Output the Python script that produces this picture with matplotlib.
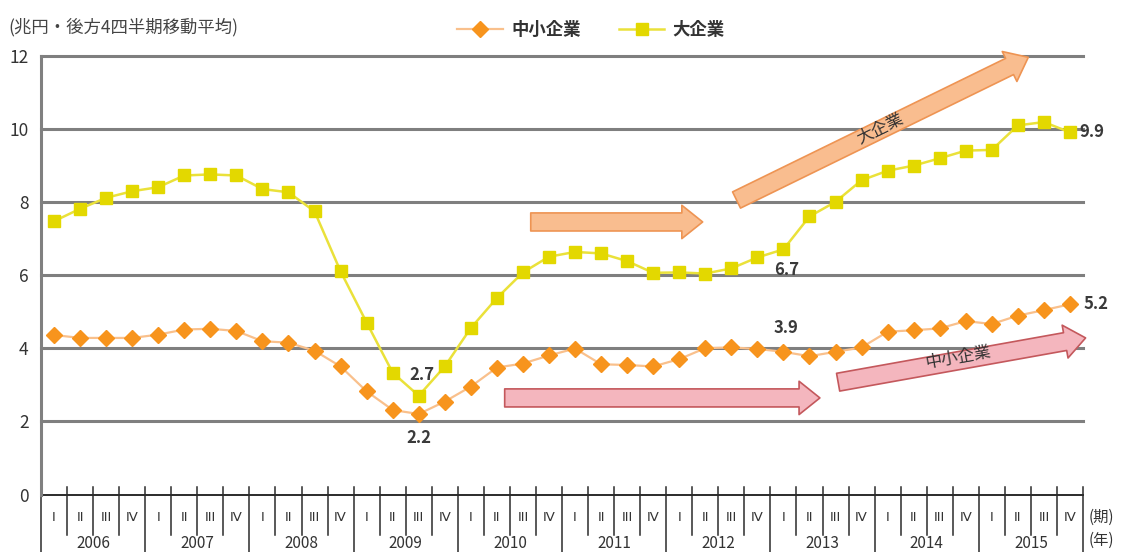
import matplotlib
matplotlib.use("Agg")
import matplotlib.pyplot as plt
from matplotlib.patches import FancyArrowPatch, ArrowStyle
import numpy as np

plt.rcParams['font.family'] = ['Noto Sans CJK JP', 'DejaVu Sans']

# ---- data ----
years = ['2006', '2007', '2008', '2009', '2010', '2011', '2012', '2013', '2014', '2015']
quarters = ['I', 'II', 'III', 'IV']

sme = [4.36, 4.28, 4.28, 4.28,
       4.37, 4.51, 4.53, 4.47,
       4.19, 4.15, 3.93, 3.50,
       2.82, 2.31, 2.2, 2.54,
       2.95, 3.47, 3.58, 3.80,
       3.99, 3.56, 3.54, 3.50,
       3.70, 4.00, 4.02, 3.98,
       3.9, 3.78, 3.90, 4.02,
       4.45, 4.49, 4.54, 4.74,
       4.66, 4.89, 5.04, 5.2]

large = [7.47, 7.81, 8.11, 8.29,
         8.40, 8.72, 8.75, 8.72,
         8.35, 8.26, 7.74, 6.10,
         4.70, 3.33, 2.7, 3.50,
         4.55, 5.37, 6.07, 6.50,
         6.63, 6.59, 6.38, 6.06,
         6.07, 6.04, 6.18, 6.48,
         6.7, 7.60, 8.00, 8.59,
         8.85, 8.99, 9.19, 9.40,
         9.42, 10.09, 10.18, 9.9]

sme_name = '中小企業'
large_name = '大企業'
y_title = '(兆円・後方4四半期移動平均)'
y_ticks = [0, 2, 4, 6, 8, 10, 12]

# labelled points: (index, offset in points, alignment)
sme_labels = [(14, (0, -17), 'center'), (28, (2, 17), 'center'), (39, (10, 0), 'left')]
large_labels = [(14, (2, 15), 'center'), (28, (2, -15), 'center'), (39, (7, 0), 'left')]

# ---- figure ----
fig = plt.figure(figsize=(11.24, 5.52), dpi=100)
ax = fig.add_axes([41 / 1124, 1 - 494.5 / 552, 1042 / 1124, 439 / 552])

n = len(sme)
x = np.arange(n)

ax.set_xlim(-0.5, n - 0.5)
ax.set_ylim(0, 12)

# horizontal gridlines
for v in y_ticks[1:]:
    ax.axhline(v, color='#7f7f7f', lw=2.2, zorder=1, clip_on=False)
ax.axhline(0, color='#2b2b2b', lw=1.4, zorder=2, clip_on=False)

for s in ['top', 'right', 'bottom']:
    ax.spines[s].set_visible(False)
ax.spines['left'].set_color('#808080')
ax.spines['left'].set_linewidth(2.2)

ax.set_yticks(y_ticks)
ax.set_yticklabels([str(v) for v in y_ticks], fontsize=12.5, color='#333333')
ax.tick_params(axis='y', length=0, pad=9)
ax.set_xticks([])

# series
l1, = ax.plot(x, sme, color='#F9C08C', lw=1.6, marker='D', markersize=8,
              markerfacecolor='#F7941D', markeredgecolor='#F7941D', zorder=5,
              label=sme_name)
l2, = ax.plot(x, large, color='#EAE13A', lw=1.8, marker='s', markersize=8.5,
              markerfacecolor='#E3D800', markeredgecolor='#E3D800', zorder=5,
              label=large_name)

# value labels
for i, off, ha in sme_labels:
    ax.annotate(f'{sme[i]:.1f}', (x[i], sme[i]), xytext=off, textcoords='offset points',
                ha=ha, va='center', fontsize=12, fontweight='bold', color='#3a3a3a', zorder=6)
for i, off, ha in large_labels:
    ax.annotate(f'{large[i]:.1f}', (x[i], large[i]), xytext=off, textcoords='offset points',
                ha=ha, va='center', fontsize=12, fontweight='bold', color='#3a3a3a', zorder=6)

# trend arrows
def trend_arrow(p0, p1, face, edge):
    style = ArrowStyle.Simple(head_length=15, head_width=24, tail_width=13)
    a = FancyArrowPatch(p0, p1, arrowstyle=style, mutation_scale=1,
                        facecolor=face, edgecolor=edge, lw=1.2,
                        shrinkA=0, shrinkB=0, zorder=4, clip_on=False)
    ax.add_patch(a)

peach, peach_edge = '#F9BD8F', '#EE9453'
pink, pink_edge = '#F4B6BE', '#C4585C'
trend_arrow((18.3, 7.45), (24.9, 7.45), peach, peach_edge)
trend_arrow((26.2, 8.05), (37.4, 11.95), peach, peach_edge)
trend_arrow((17.3, 2.64), (29.4, 2.64), pink, pink_edge)
trend_arrow((30.1, 3.07), (39.6, 4.28), pink, pink_edge)

ax.text(31.7, 10.0, large_name, rotation=26, ha='center', va='center',
        fontsize=12, color='#333333', zorder=6, rotation_mode='anchor')
ax.text(34.7, 3.73, sme_name, rotation=10, ha='center', va='center',
        fontsize=12, color='#333333', zorder=6, rotation_mode='anchor')

# category axis: quarter and year separators with labels
trans = ax.get_xaxis_transform()
fig_bottom = -(552 - 494.5) / 439
for k in range(n + 1):
    xb = k - 0.5
    if k % 4 == 0:
        ax.plot([xb, xb], [0.016, fig_bottom - 0.01], transform=trans, color='#2b2b2b',
                lw=1.1, clip_on=False)
    else:
        ax.plot([xb, xb], [0.016, -0.092], transform=trans, color='#2b2b2b',
                lw=1.1, clip_on=False)
for k in range(n):
    ax.text(k, -0.052, quarters[k % 4], transform=trans, ha='center', va='center',
            fontsize=9.5, color='#333333', family=['DejaVu Sans'])
for j, yr in enumerate(years):
    ax.text(j * 4 + 1.5, -0.111, yr, transform=trans, ha='center', va='center',
            fontsize=11, color='#333333')

ax.text(1.005, -0.052, '(期)', transform=ax.transAxes, ha='left', va='center',
        fontsize=11, color='#333333')
ax.text(1.005, -0.104, '(年)', transform=ax.transAxes, ha='left', va='center',
        fontsize=11, color='#333333')

# titles
fig.text(8 / 1124, 1 - 27 / 552, y_title, ha='left', va='center', fontsize=12.5,
         color='#444444')

leg = ax.legend(handles=[l1, l2], loc='center', bbox_to_anchor=(0.528, 1.058),
                ncol=2, frameon=False, fontsize=12.5, handlelength=2.6,
                columnspacing=2.2, handletextpad=0.5)
for t in leg.get_texts():
    t.set_fontweight('bold')
    t.set_color('#333333')

fig.savefig('out.png', dpi=100)
